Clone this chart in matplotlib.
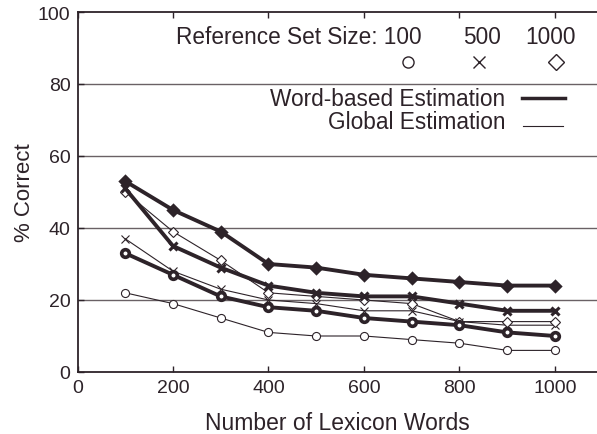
import matplotlib
matplotlib.use("Agg")
import matplotlib.pyplot as plt
from matplotlib.lines import Line2D

# Lexicon sizes on the x axis
lexicon_words = [100, 200, 300, 400, 500, 600, 700, 800, 900, 1000]

# % correct, word-based estimation (thick lines), per reference set size
word_100 = [33, 27, 21, 18, 17, 15, 14, 13, 11, 10]
word_500 = [51, 35, 29, 24, 22, 21, 21, 19, 17, 17]
word_1000 = [53, 45, 39, 30, 29, 27, 26, 25, 24, 24]

# % correct, global estimation (thin lines), per reference set size
global_100 = [22, 19, 15, 11, 10, 10, 9, 8, 6, 6]
global_500 = [37, 28, 23, 20, 19, 17, 17, 14, 13, 13]
global_1000 = [50, 39, 31, 22, 21, 20, 19, 14, 14, 14]

set_sizes = ["100", "500", "1000"]
x_ticks = [0, 200, 400, 600, 800, 1000]
y_ticks = [0, 20, 40, 60, 80, 100]

INK = "#2d2329"
GRID = "#6a6165"
FONT = "Liberation Sans"

plt.rcParams["font.family"] = [FONT, "DejaVu Sans"]

W, H = 597, 435
fig = plt.figure(figsize=(W / 100, H / 100), dpi=100)


def fx(px):
    return px / W


def fy(py):
    return 1 - py / H


ax = fig.add_axes([fx(77.5), fy(373), 1 - fx(77.5), fy(13) - fy(373)])
ax.set_xlim(0, 1088)
ax.set_ylim(0, 100)

for gy in y_ticks[1:-1]:
    ax.axhline(gy, color=GRID, lw=1.0, zorder=1)

markers = {"100": "o", "500": "x", "1000": "D"}

# thin lines: global estimation
for key, vals in zip(set_sizes, [global_100, global_500, global_1000]):
    m = markers[key]
    ax.plot(lexicon_words, vals, color=INK, lw=0.8, marker=m,
            markersize=5.8 if m != "D" else 4.7, mfc="white" if m != "x" else INK,
            mec=INK, mew=0.8, zorder=3, clip_on=False)

# thick lines: word-based estimation
for key, vals in zip(set_sizes, [word_100, word_500, word_1000]):
    m = markers[key]
    ax.plot(lexicon_words, vals, color=INK, lw=2.8, marker=m,
            markersize=5.5, mfc="white" if m == "o" else INK,
            mec=INK, mew=2.6 if m == "o" else 2.2, zorder=4, clip_on=False)

ax.set_xticks(x_ticks)
ax.set_yticks(y_ticks)
ax.tick_params(direction="in", length=4, width=1, color=INK, labelsize=14,
               labelcolor=INK, top=True, right=False, pad=5)
for side in ["left", "bottom", "top"]:
    ax.spines[side].set_color(INK)
    ax.spines[side].set_linewidth(1.3)
ax.spines["right"].set_visible(False)

ax.set_xlabel("Number of Lexicon Words", fontsize=16.5, color=INK, labelpad=11)
ax.set_ylabel("% Correct", fontsize=16, color=INK, labelpad=2)

# key: reference set sizes
fs = 16.3
fig.text(fx(422), fy(43.5), "Reference Set Size: 100", ha="right", va="baseline",
         fontsize=fs, color=INK)
fig.text(fx(463), fy(43.5), "500", ha="left", va="baseline", fontsize=fs, color=INK)
fig.text(fx(525), fy(43.5), "1000", ha="left", va="baseline", fontsize=fs, color=INK)

for px, m, ms in [(408, "o", 8), (479, "x", 8.5), (556, "D", 8)]:
    fig.add_artist(Line2D([fx(px)], [fy(63)], marker=m, markersize=ms,
                          mfc="white", mec=INK, mew=1.0, color=INK,
                          transform=fig.transFigure))

# key: estimation methods
fig.text(fx(505), fy(105.5), "Word-based Estimation", ha="right", va="baseline",
         fontsize=fs, color=INK)
fig.text(fx(505), fy(129), "Global Estimation", ha="right", va="baseline",
         fontsize=fs, color=INK)
fig.add_artist(Line2D([fx(522), fx(565)], [fy(99), fy(99)], lw=2.5, color=INK,
                      transform=fig.transFigure))
fig.add_artist(Line2D([fx(523), fx(563)], [fy(127), fy(127)], lw=0.8, color=INK,
                      transform=fig.transFigure))

fig.savefig("out.png", dpi=100)
